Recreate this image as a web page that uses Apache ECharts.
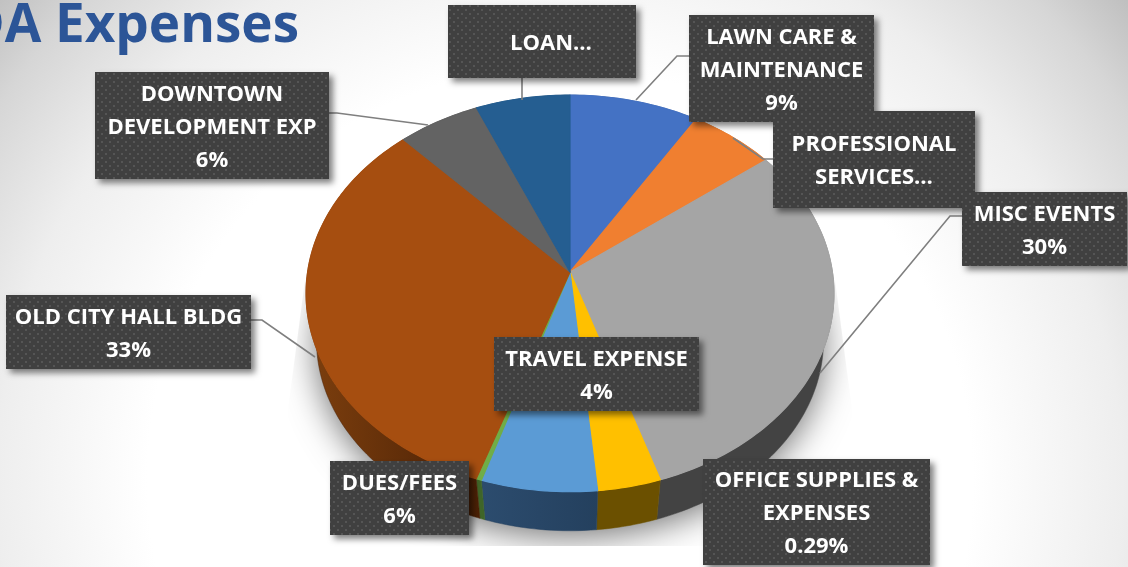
<!DOCTYPE html>
<html><head><meta charset="utf-8">
<style>html,body{margin:0;padding:0;background:#fff}#c{width:1128px;height:567px}</style>
<script src="https://cdn.jsdelivr.net/npm/echarts@6/dist/echarts.min.js"></script>
</head><body><div id="c"></div>
<script>
// ---- data ----
const sliceNames = ['LAWN CARE & MAINTENANCE','PROFESSIONAL SERVICES','MISC EVENTS','TRAVEL EXPENSE','DUES/FEES','OFFICE SUPPLIES & EXPENSES','OLD CITY HALL BLDG','DOWNTOWN DEVELOPMENT EXP','LOAN'];
const sliceValues = [8.8,5.8,30.4,3.5,6.4,0.3,32.8,5.6,6.4];
const labelTexts = ['LAWN CARE &\nMAINTENANCE\n9%','PROFESSIONAL\nSERVICES…','MISC EVENTS\n30%','TRAVEL EXPENSE\n4%','DUES/FEES\n6%','OFFICE SUPPLIES &\nEXPENSES\n0.29%','OLD CITY HALL BLDG\n33%','DOWNTOWN\nDEVELOPMENT EXP\n6%','LOAN…'];
const titleText = 'DDA Expenses';
// ---- styles and layout ----
const faceColors = ['#4472c4','#f07f30','#a5a5a5','#ffc000','#5b9bd5','#70ad47','#a64e10','#636363','#255e91'];
const wallColors = [['#27426f','#27426f'],['#8c4a1c','#8c4a1c'],['#434343','#434343'],['#6b5000','#6b5000'],['#2c4c6e','#24405e'],['#3f6528','#3f6528'],['#7d3f0e','#4a2005'],['#3a3a3a','#3a3a3a'],['#163754','#163754']];
const labelBoxes = [[689,15,185,107],[773,111,202,97],[962,192,165,74],[494,337,205,74],[330,461,139,74],[703,459,227,106],[6,295,245,74],[95,72,234,107],[448,5,188,73]];
const labelShiftX = [0,0,0,0,0,0,0,0,9];
const leaders = [[[689,56],[677,56],[636,100]],[[773,159],[763,159],[733,138]],[[962,216],[950,216],[820,373]],[[251,320],[262,320],[315,357]],[[329,113],[337,113],[428,125]],[[522,78],[522,100]]];
const face = {x:570,y:272,a:262.4,b:196,e:0.108};
const base = {x:570,y:320,a:252,b:188,e:0.108};
const total = sliceValues.reduce((s,v)=>s+v,0);
const cum = []; sliceValues.reduce((s,v,i)=>{cum[i]=[s,s+v];return s+v;},0);
function pt(p,frac){const t=frac*2*Math.PI,u=Math.sin(t),v=-Math.cos(t),d=1-p.e*v;return [p.x+p.a*u/d,p.y+p.b*v/d];}
function arc(p,f0,f1){const n=Math.max(2,Math.ceil((f1-f0)*300));const r=[];for(let i=0;i<=n;i++)r.push(pt(p,f0+(f1-f0)*i/n));return r;}
const dots=document.createElement('canvas');dots.width=8;dots.height=8;
(function(){const g=dots.getContext('2d');g.fillStyle='#404040';g.fillRect(0,0,8,8);g.fillStyle='#555555';g.fillRect(1,1,2,2);g.fillRect(5,5,2,2);})();
const sliceData = sliceValues.map((v,i)=>({name:sliceNames[i],value:[v,cum[i][0]/total,cum[i][1]/total,i]}));
const chart = echarts.init(document.getElementById('c'),null,{renderer:'canvas'});
chart.setOption({
  animation:false,
  graphic:[
    {type:'rect',z:-10,silent:true,shape:{x:0,y:0,width:1128,height:567},style:{fill:{type:'radial',x:560,y:480,r:750,global:true,colorStops:[{offset:0,color:'#ffffff'},{offset:0.55,color:'#ffffff'},{offset:0.75,color:'#eeeeee'},{offset:0.9,color:'#d6d6d6'},{offset:1,color:'#bdbdbd'}]}}},
    {type:'text',z:5,silent:true,style:{text:titleText,x:299,y:27,align:'right',verticalAlign:'middle',fill:'#2c5597',fontFamily:'Open Sans',fontWeight:700,fontSize:53}}
  ],
  series:[
    {type:'custom',coordinateSystem:'none',z:1,silent:true,data:[[0]],renderItem(){
      return {type:'polygon',shape:{points:arc(base,0,1)},style:{fill:'#bbb',shadowBlur:34,shadowColor:'rgba(0,0,0,.55)',shadowOffsetY:6},
        clipPath:{type:'polygon',shape:{points:[[305,280],[835,280],[852,410],[852,546],[288,546],[288,410]]}}};
    }},
    {type:'custom',coordinateSystem:'none',z:2,silent:true,data:sliceData,renderItem(params,api){
      const f0=api.value(1),f1=api.value(2),i=api.value(3);
      const c=wallColors[i];
      return {type:'polygon',shape:{points:arc(face,f0,f1).concat(arc(base,f0,f1).reverse())},
        style:{fill:new echarts.graphic.LinearGradient(0,0,1,0,[{offset:0,color:c[0]},{offset:1,color:c[1]}]),stroke:c[1],lineWidth:0.5}};
    }},
    {type:'custom',coordinateSystem:'none',z:3,silent:true,data:sliceData,renderItem(params,api){
      const f0=api.value(1),f1=api.value(2),i=api.value(3);
      return {type:'polygon',shape:{points:[[face.x,face.y]].concat(arc(face,f0,f1))},style:{fill:faceColors[i],stroke:faceColors[i],lineWidth:1.2,lineJoin:'round'}};
    }},
    {type:'custom',coordinateSystem:'none',z:4,silent:true,data:leaders.map((l,i)=>[i]),renderItem(params,api){
      return {type:'polyline',shape:{points:leaders[api.value(0)]},style:{fill:null,stroke:'#7f7f7f',lineWidth:1.6}};
    }},
    {type:'custom',coordinateSystem:'none',z:6,silent:true,data:labelTexts.map((t,i)=>[i]),renderItem(params,api){
      const i=api.value(0),b=labelBoxes[i];
      return {type:'group',children:[
        {type:'rect',shape:{x:b[0],y:b[1],width:b[2],height:b[3]},style:{fill:{image:dots,repeat:'repeat'},shadowBlur:6,shadowOffsetX:4,shadowOffsetY:4,shadowColor:'rgba(0,0,0,.5)'}},
        {type:'text',style:{text:labelTexts[i],x:b[0]+b[2]/2+labelShiftX[i],y:b[1]+b[3]/2+2,align:'center',verticalAlign:'middle',fill:'#fff',fontFamily:'Open Sans',fontWeight:700,fontSize:22,lineHeight:33}}
      ]};
    }}
  ]
});
</script></body></html>
